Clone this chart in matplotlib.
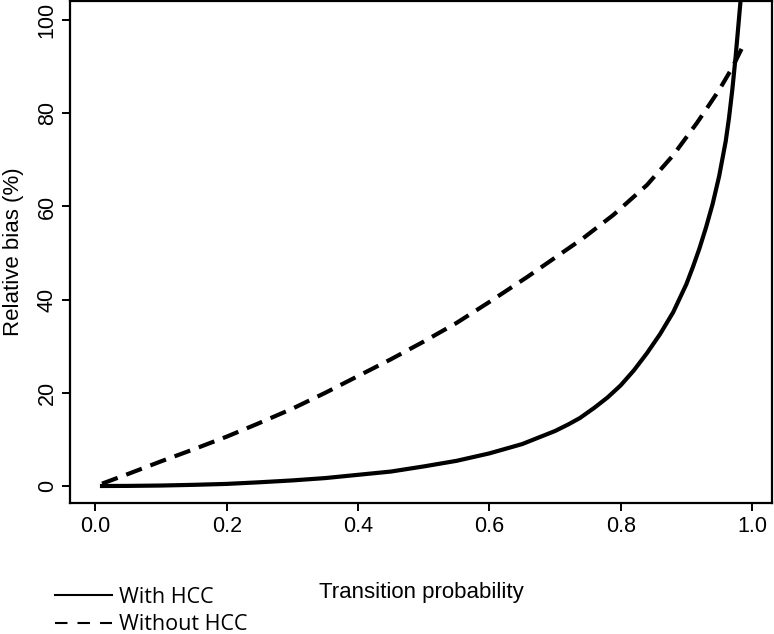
import numpy as np
import matplotlib
matplotlib.use("Agg")
import matplotlib.pyplot as plt
from matplotlib.lines import Line2D

# values
prob_without = [0.01, 0.05, 0.10, 0.15, 0.20, 0.246, 0.30, 0.35, 0.40, 0.45, 0.50,
                0.55, 0.60, 0.657, 0.70, 0.743, 0.789, 0.84, 0.88, 0.916, 0.93,
                0.95, 0.97, 0.99]
bias_without = [0.5, 2.6, 5.3, 7.9, 10.6, 13.3, 16.6, 20.0, 23.6, 27.2, 31.0,
                35.0, 39.5, 44.8, 49.0, 53.2, 58.2, 64.6, 71.0, 77.9, 80.8,
                85.0, 89.8, 95.5]

prob_with = [0.01, 0.05, 0.10, 0.15, 0.20, 0.25, 0.30, 0.35, 0.40, 0.45, 0.50,
             0.55, 0.60, 0.65, 0.70, 0.72, 0.738, 0.76, 0.78, 0.80, 0.82,
             0.84, 0.86, 0.88, 0.90, 0.91, 0.92, 0.93, 0.94, 0.95, 0.96,
             0.965, 0.97, 0.975, 0.98, 0.985, 0.99]
bias_with = [0.0, 0.02, 0.1, 0.25, 0.45, 0.8, 1.2, 1.7, 2.4, 3.1, 4.2,
             5.4, 7.0, 9.0, 11.8, 13.2, 14.6, 16.8, 19.0, 21.6, 24.8,
             28.5, 32.6, 37.3, 43.3, 47.0, 51.0, 55.5, 60.5, 66.5, 74.0,
             79.0, 85.0, 92.0, 100.0, 108.0, 118.0]

legend_labels = ["With HCC", "Without HCC"]
xticks = [0.0, 0.2, 0.4, 0.6, 0.8, 1.0]
yticks = [0, 20, 40, 60, 80, 100]

plt.rcParams['font.family'] = ['Liberation Sans', 'DejaVu Sans']

fig = plt.figure(figsize=(7.74, 6.34), dpi=100)
ax = fig.add_axes([70 / 774, 131 / 634, 702 / 774, 502 / 634])

ax.plot(prob_with, bias_with, color='black', lw=3.0, solid_joinstyle='round')
ax.plot(prob_without, bias_without, color='black', lw=3.0,
        dashes=(4.0, 2.2), dash_capstyle='butt')

ax.set_xlim(-0.0388, 1.0305)
ax.set_ylim(-3.65, 104.1)
ax.set_xticks(xticks)
ax.set_xticklabels([f"{t:.1f}" for t in xticks])
ax.set_yticks(yticks)
ax.set_yticklabels([str(t) for t in yticks], rotation=90, va='center')
ax.tick_params(direction='out', length=5.8, width=1.4, labelsize=15.5)
ax.tick_params(axis='x', pad=3.5)
ax.tick_params(axis='y', pad=3)

for sp in ax.spines.values():
    sp.set_linewidth(1.6)

ax.set_xlabel("Transition probability", fontsize=16, va='top')
ax.xaxis.set_label_coords(0.5, -0.157)
ax.set_ylabel("Relative bias (%)", fontsize=16)
ax.yaxis.set_label_coords(-0.066, 0.5)

handles = [Line2D([], [], color='black', lw=1.5),
           Line2D([], [], color='black', lw=1.5, dashes=(6.0, 4.8))]
fig.legend(handles, legend_labels, loc='upper left',
           bbox_to_anchor=(55 / 774, 1 - 587 / 634), frameon=False,
           prop={'family': 'Open Sans', 'size': 15.5}, handlelength=2.65,
           handletextpad=0.3, labelspacing=0.3, borderpad=0,
           borderaxespad=0)

fig.savefig("out.png", dpi=100)
